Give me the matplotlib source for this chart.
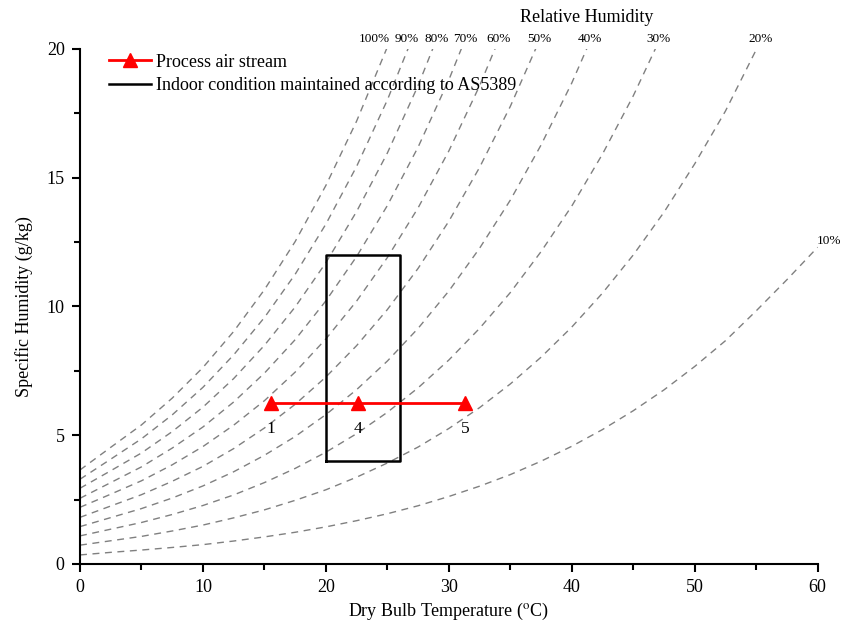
import numpy as np
import matplotlib
matplotlib.use('Agg')
import matplotlib.pyplot as plt
from matplotlib.ticker import MultipleLocator

plt.rcParams['font.family'] = 'Liberation Serif'
plt.rcParams['mathtext.fontset'] = 'stix'

# dry bulb grid (degC) shared by all RH curves
temp = np.arange(0, 60.1, 2.5)

# specific humidity (g/kg) along each RH curve
rh100 = [3.65, 4.53, 5.40, 6.44, 7.63, 9.03, 10.65, 12.52, 14.70, 17.20, 20.08]
rh90 = [3.29, 4.07, 4.86, 5.79, 6.86, 8.12, 9.57, 11.25, 13.20, 15.44, 18.02, 20.98]
rh80 = [2.94, 3.62, 4.31, 5.14, 6.09, 7.20, 8.49, 9.98, 11.70, 13.69, 15.96,
        18.58, 21.58]
rh70 = [2.55, 3.16, 3.77, 4.50, 5.32, 6.29, 7.41, 8.71, 10.22, 11.94, 13.92,
        16.19, 18.80, 21.77]
rh60 = [2.20, 2.71, 3.23, 3.85, 4.56, 5.39, 6.34, 7.45, 8.74, 10.21, 11.90,
        13.83, 16.04, 18.57, 21.44]
rh50 = [1.81, 2.25, 2.69, 3.21, 3.79, 4.48, 5.28, 6.20, 7.26, 8.48, 9.88,
        11.48, 13.31, 15.40, 17.77, 20.48]
rh40 = [1.45, 1.80, 2.15, 2.56, 3.03, 3.58, 4.22, 4.95, 5.80, 6.77, 7.88,
        9.15, 10.60, 12.26, 14.13, 16.27, 18.68, 21.41]
rh30 = [1.09, 1.35, 1.61, 1.92, 2.27, 2.68, 3.16, 3.71, 4.34, 5.06, 5.89,
        6.84, 7.92, 9.15, 10.54, 12.13, 13.90, 15.92, 18.18, 20.72]
rh20 = [0.73, 0.90, 1.07, 1.28, 1.51, 1.79, 2.10, 2.47, 2.88, 3.37, 3.92,
        4.54, 5.26, 6.07, 6.99, 8.03, 9.20, 10.52, 12.00, 13.66, 15.54,
        17.59, 19.97, 22.48]
rh10 = [0.35, 0.45, 0.54, 0.64, 0.75, 0.89, 1.05, 1.23, 1.44, 1.68, 1.95,
        2.26, 2.62, 3.02, 3.47, 3.99, 4.57, 5.22, 5.95, 6.76, 7.67, 8.67,
        9.83, 11.04, 12.30]

curves = [rh100, rh90, rh80, rh70, rh60, rh50, rh40, rh30, rh20, rh10]
rh_labels = ['100%', '90%', '80%', '70%', '60%', '50%', '40%', '30%', '20%', '10%']

# process air stream states
proc_t = [15.5, 22.6, 31.3]
proc_w = [6.25, 6.25, 6.25]
proc_ids = ['1', '4', '5']

# indoor comfort box (AS5389)
box_t = [20, 26]
box_w = [4, 12]

fig = plt.figure(figsize=(8.44, 6.28), dpi=100)
ax = fig.add_axes([0.0948, 0.102, 0.874, 0.820])

# small nudges so the crowded labels at the top don't touch
nudge = {'100%': -1.0, '90%': -0.1}

for w, lab in zip(curves, rh_labels):
    t = temp[:len(w)]
    ax.plot(t, w, color='#808080', lw=1.0, ls=(0, (5, 4)), zorder=1)
    if w[-1] > 20:
        tx = np.interp(20, w, t) + nudge.get(lab, 0.3)
        ax.text(tx, 20.15, lab, ha='center', va='bottom', fontsize=9.5,
                clip_on=False)
    else:
        ax.text(t[-1] - 0.1, w[-1], lab, ha='left', va='bottom', fontsize=9.5,
                clip_on=False)

ax.plot(proc_t, proc_w, color='red', lw=2, marker='^', ms=10,
        label='Process air stream', zorder=3)
for t, w, s in zip(proc_t, proc_w, proc_ids):
    ax.annotate(s, (t, w), xytext=(0, -19), textcoords='offset points',
                ha='center', va='center', fontsize=12.5)

bx = [box_t[0], box_t[1], box_t[1], box_t[0], box_t[0]]
by = [box_w[0], box_w[0], box_w[1], box_w[1], box_w[0]]
ax.plot(bx, by, color='black', lw=1.8,
        label='Indoor condition maintained according to AS5389', zorder=2)

ax.set_xlim(0, 60)
ax.set_ylim(0, 20)
ax.xaxis.set_major_locator(MultipleLocator(10))
ax.xaxis.set_minor_locator(MultipleLocator(5))
ax.yaxis.set_major_locator(MultipleLocator(5))
ax.yaxis.set_minor_locator(MultipleLocator(2.5))
ax.tick_params(which='major', direction='out', length=6, width=1.5,
               labelsize=13, pad=5)
ax.tick_params(which='minor', direction='out', length=4, width=1.5)
for side in ['top', 'right']:
    ax.spines[side].set_visible(False)
for side in ['left', 'bottom']:
    ax.spines[side].set_linewidth(1.5)

ax.set_xlabel(r'Dry Bulb Temperature ($^{\mathrm{o}}$C)', fontsize=13,
              labelpad=3)
ax.set_ylabel('Specific Humidity (g/kg)', fontsize=13, labelpad=10)

ax.legend(loc='upper left', bbox_to_anchor=(0.03, 1.005), frameon=False,
          fontsize=13, handlelength=2.3, handletextpad=0.3,
          labelspacing=0.35, numpoints=1, borderaxespad=0)

fig.text(587 / 844, 1 - 17 / 628, 'Relative Humidity', ha='center',
         va='center', fontsize=13)

fig.savefig('out.png', dpi=100)
